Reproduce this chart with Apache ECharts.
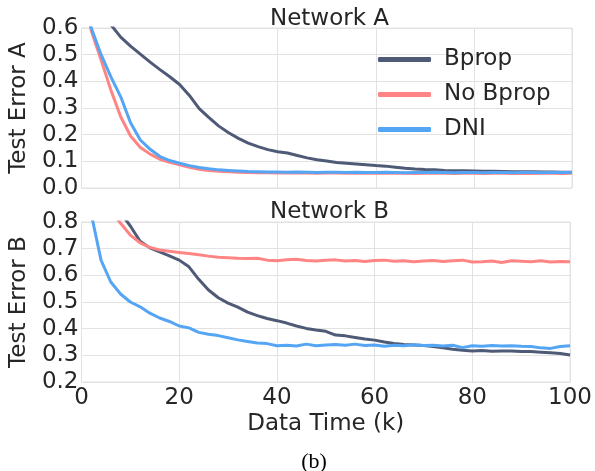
<!DOCTYPE html>
<html>
<head>
<meta charset="utf-8">
<script src="https://cdn.jsdelivr.net/npm/echarts@6/dist/echarts.min.js"></script>
<style>
  html, body { margin: 0; padding: 0; background: #fff; }
  #chart { width: 595px; height: 471px; }
</style>
</head>
<body>
<div id="chart"></div>
<script>
var dataTime = [0,2,4,6,8,10,12,14,16,18,20,22,24,26,28,30,32,34,36,38,40,42,44,46,48,50,
  52,54,56,58,60,62,64,66,68,70,72,74,76,78,80,82,84,86,88,90,92,94,96,98,100];

// Network A
var bpropA = [0.80,0.74,0.68,0.612,0.566,0.532,0.502,0.472,0.444,0.417,0.388,0.347,0.298,0.264,0.232,0.207,0.186,0.168,0.155,0.144,
  0.136,0.131,0.122,0.113,0.106,0.101,0.096,0.093,0.090,0.087,0.084,0.082,0.078,0.074,0.071,0.069,0.068,0.066,0.065,0.065,
  0.064,0.063,0.063,0.062,0.061,0.061,0.061,0.060,0.060,0.059,0.059];
var noBpropA = [0.78,0.59,0.48,0.367,0.267,0.195,0.152,0.127,0.108,0.096,0.087,0.078,0.070,0.066,0.063,0.061,0.059,0.058,0.057,0.057,
  0.056,0.057,0.056,0.056,0.055,0.056,0.056,0.055,0.056,0.055,0.055,0.056,0.055,0.055,0.054,0.055,0.055,0.055,0.054,0.055,
  0.055,0.054,0.055,0.055,0.054,0.055,0.054,0.055,0.055,0.054,0.055];
var dniA = [0.78,0.60,0.50,0.417,0.342,0.245,0.180,0.145,0.118,0.103,0.093,0.084,0.077,0.072,0.068,0.066,0.064,0.062,0.061,0.060,
  0.060,0.059,0.060,0.059,0.058,0.059,0.059,0.058,0.059,0.058,0.058,0.059,0.058,0.057,0.058,0.058,0.059,0.058,0.057,0.058,
  0.058,0.057,0.058,0.058,0.057,0.058,0.058,0.057,0.058,0.058,0.058];

// Network B
var bpropB = [1.00,0.96,0.92,0.875,0.835,0.785,0.728,0.703,0.688,0.673,0.657,0.632,0.585,0.545,0.516,0.496,0.481,0.462,0.449,0.438,
  0.430,0.421,0.410,0.401,0.395,0.390,0.376,0.373,0.367,0.361,0.357,0.350,0.344,0.341,0.339,0.337,0.333,0.328,0.323,0.319,
  0.316,0.318,0.315,0.316,0.316,0.314,0.314,0.312,0.310,0.307,0.301];
var noBpropB = [1.00,0.95,0.90,0.845,0.795,0.751,0.722,0.705,0.695,0.690,0.686,0.682,0.677,0.672,0.668,0.666,0.664,0.663,0.664,0.657,
  0.655,0.658,0.660,0.656,0.654,0.657,0.658,0.654,0.656,0.652,0.656,0.657,0.653,0.655,0.651,0.654,0.656,0.652,0.655,0.657,
  0.650,0.651,0.654,0.648,0.655,0.653,0.651,0.655,0.650,0.652,0.651];
var dniB = [1.10,0.83,0.657,0.575,0.530,0.500,0.482,0.458,0.440,0.427,0.410,0.403,0.386,0.379,0.374,0.366,0.358,0.352,0.346,0.344,
  0.336,0.338,0.335,0.342,0.336,0.339,0.341,0.338,0.342,0.337,0.339,0.334,0.338,0.336,0.340,0.337,0.338,0.335,0.338,0.329,
  0.336,0.334,0.337,0.335,0.336,0.334,0.333,0.328,0.326,0.333,0.336];

var names = ['Bprop', 'No Bprop', 'DNI'];
var colors = ['#4f5a77', '#ff8585', '#55a5f5'];

function pairs(ys) {
  return ys.map(function (y, i) { return [dataTime[i], y]; });
}

var font = 'DejaVu Sans';
var fs = 23;
var txt = '#262626';
var gridColor = '#e2e2e2';

function mkLine(name, ys, idx, color) {
  return {
    name: name,
    type: 'line',
    xAxisIndex: idx,
    yAxisIndex: idx,
    data: pairs(ys),
    showSymbol: false,
    symbol: 'none',
    clip: true,
    lineStyle: { width: 3, color: color },
    itemStyle: { color: color }
  };
}

function xAx(idx, labels) {
  return {
    type: 'value', gridIndex: idx, min: 0, max: 100, interval: 20,
    axisLine: { show: false }, axisTick: { show: false },
    axisLabel: { show: labels, fontSize: fs, color: txt, fontFamily: font, margin: 5 },
    splitLine: { show: true, lineStyle: { color: gridColor, width: 1 } },
    name: labels ? 'Data Time (k)' : '',
    nameLocation: 'middle', nameGap: 31,
    nameTextStyle: { fontSize: fs, color: txt, fontFamily: font }
  };
}

function yAx(idx, min, max, name) {
  return {
    type: 'value', gridIndex: idx, min: min, max: max, interval: 0.1,
    axisLine: { show: false }, axisTick: { show: false },
    axisLabel: {
      fontSize: fs, color: txt, fontFamily: font, margin: 3,
      formatter: function (v) { return v.toFixed(1); }
    },
    splitLine: { show: true, lineStyle: { color: gridColor, width: 1 } },
    name: name, nameLocation: 'middle', nameGap: 40,
    nameTextStyle: { fontSize: fs, color: txt, fontFamily: font }
  };
}

var chart = echarts.init(document.getElementById('chart'), null, { renderer: 'canvas' });

chart.setOption({
  backgroundColor: '#fff',
  animation: false,
  title: [
    { text: 'Network A', left: 324.5, top: 3, textAlign: 'center',
      textStyle: { fontSize: fs, fontWeight: 'normal', color: txt, fontFamily: font } },
    { text: 'Network B', left: 324.5, top: 196, textAlign: 'center',
      textStyle: { fontSize: fs, fontWeight: 'normal', color: txt, fontFamily: font } },
    { text: '(b)', left: 309, top: 446, textAlign: 'center',
      textStyle: { fontSize: 22, fontWeight: 'normal', color: '#000', fontFamily: 'Liberation Serif' } }
  ],
  legend: {
    data: names,
    orient: 'vertical',
    left: 378, top: 48,
    padding: 0,
    icon: 'roundRect',
    itemWidth: 53, itemHeight: 5, itemGap: 12,
    textStyle: { fontSize: fs, color: txt, fontFamily: font, padding: [0, 0, 0, 8] }
  },
  grid: [
    { left: 77, top: 28, width: 495, height: 160, show: true, borderColor: gridColor, borderWidth: 1 },
    { left: 77, top: 222, width: 495, height: 160, show: true, borderColor: gridColor, borderWidth: 1 }
  ],
  xAxis: [xAx(0, false), xAx(1, true)],
  yAxis: [yAx(0, 0, 0.6, 'Test Error A'), yAx(1, 0.2, 0.8, 'Test Error B')],
  series: [
    mkLine(names[0], bpropA, 0, colors[0]),
    mkLine(names[1], noBpropA, 0, colors[1]),
    mkLine(names[2], dniA, 0, colors[2]),
    mkLine(names[0], bpropB, 1, colors[0]),
    mkLine(names[1], noBpropB, 1, colors[1]),
    mkLine(names[2], dniB, 1, colors[2])
  ]
});
</script>
</body>
</html>
